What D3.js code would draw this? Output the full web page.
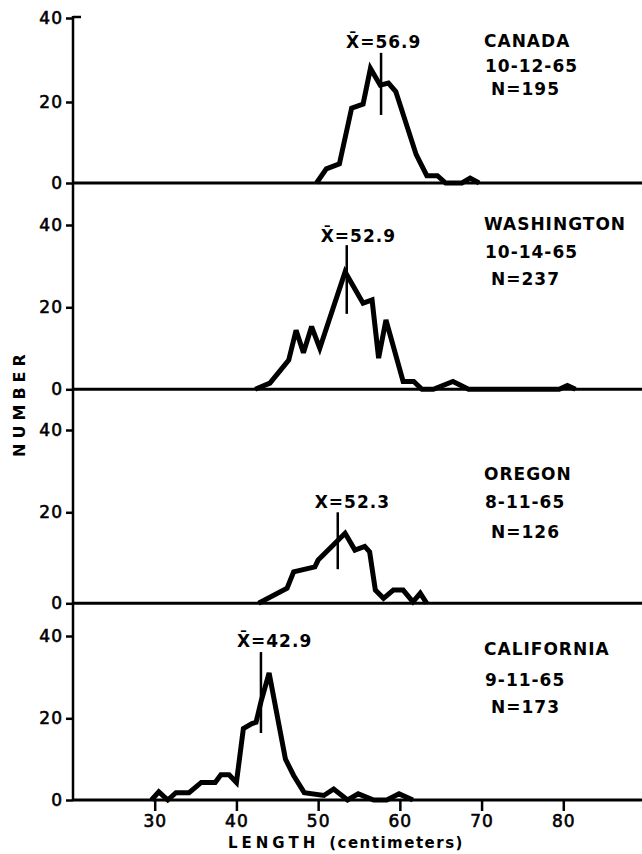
<!DOCTYPE html>
<html>
<head>
<meta charset="utf-8">
<title>Length frequency by region</title>
<script src="https://cdnjs.cloudflare.com/ajax/libs/d3/7.8.5/d3.min.js"></script>
<style>
    body { margin: 0; background: #fff; }
    svg { display: block; }
    text { font-family: "DejaVu Sans", sans-serif; font-weight: bold; fill: #000; }
</style>
</head>
<body>
<svg id="chart" width="642" height="854"></svg>
<script>
// ---- data ----
var regions = ["CANADA", "WASHINGTON", "OREGON", "CALIFORNIA"];
var dates = ["10-12-65", "10-14-65", "8-11-65", "9-11-65"];
var sampleN = [195, 237, 126, 173];
var meanText = ["56.9", "52.9", "52.3", "42.9"];
var meanHasBar = [true, true, false, true];
var meanMarkAt = [57.7, 53.5, 52.4, 43.0];           // where the mean stroke is drawn (cm)
var meanMarkSpan = [[16.8, 31.7], [18.4, 35.1], [7.5, 20], [16.4, 36.1]];  // stroke ends (number)

var yTicks = [0, 20, 40];
var xTicks = [30, 40, 50, 60, 70, 80];

// [length cm, number]
var canada = [[49.8,0],[51,3.5],[52.6,4.7],[54.1,18.5],[55.5,19.5],[56.4,28],[57.6,24],[58.6,24.5],
    [59.5,22.5],[62,7],[63.3,1.8],[64.6,1.8],[65.6,0],[67.6,0],[68.6,1.2],[69.7,0]];
var washington = [[42.3,0],[44.1,1.5],[46.4,7.1],[47.3,14.4],[48.2,8.9],[49.2,15.3],[50.2,10],
    [53.3,28.6],[55.5,21],[56.6,21.8],[57.4,7.6],[58.3,16.9],[60.4,1.9],[61.7,1.9],[62.7,0],
    [64.1,0],[66.5,1.9],[68.4,0],[79.5,0],[80.5,0.9],[81.5,0]];
var oregon = [[42.7,0],[46.2,3.3],[47,6.9],[49.6,8],[50,9.5],[53.3,15.4],[54.5,11.7],[55.7,12.5],
    [56.3,11.3],[57,2.9],[58,1.1],[59.2,2.9],[60.4,2.9],[61.6,0.3],[62.5,2.2],[63.3,0]];
var california = [[29.6,0],[30.5,2],[31.6,0],[32.6,1.8],[34.2,1.8],[35.7,4.3],[37.4,4.3],[38.1,6.2],
    [39.1,6.2],[40,4.3],[40.85,17.5],[41.9,18.7],[42.4,19],[43,24],[44,31],[46,10],[47,6],
    [48.3,1.8],[50.7,1.1],[51.9,2.7],[53.6,0],[54.9,1.5],[56.8,0],[58.4,0],[59.9,1.5],[61.6,0]];
var series = [canada, washington, oregon, california];

// ---- layout ----
var svg = d3.select("#chart");
var x = d3.scaleLinear().domain([20, 90]).range([73, 645]);
var axisX = x(20);
// pixel rows for 0 / 20 / 40 in each panel (hand drawn, so not evenly spaced)
var rows = [[183, 102, 18], [389.3, 307.3, 225], [603.3, 512.3, 430], [800, 718.3, 636]];
var labelBase = [[47, 72, 95], [230, 258, 285], [480, 508, 538], [655, 686, 713]];
var meanBase = [48, 242, 508, 647];
var meanDx = [-35, -26, -23, -24];

// vertical axis
svg.append("line")
    .attr("x1", axisX).attr("x2", axisX)
    .attr("y1", 16).attr("y2", 801)
    .attr("stroke", "#000").attr("stroke-width", 2.5);
// small stub at the very top
svg.append("line")
    .attr("x1", axisX).attr("x2", axisX + 8)
    .attr("y1", 17).attr("y2", 17)
    .attr("stroke", "#000").attr("stroke-width", 2.5);

series.forEach(function(data, i) {
    var y = d3.scaleLinear().domain(yTicks).range(rows[i]);

    // baseline
    svg.append("line")
        .attr("x1", axisX).attr("x2", 642)
        .attr("y1", y(0)).attr("y2", y(0))
        .attr("stroke", "#000").attr("stroke-width", 3);

    var g = svg.append("g")
        .attr("transform", "translate(" + axisX + ",0)")
        .call(d3.axisLeft(y).tickValues(yTicks).tickSize(7).tickPadding(3));
    g.select(".domain").remove();
    g.selectAll(".tick line").attr("stroke-width", 2.5);
    g.selectAll(".tick text")
        .attr("font-size", 17).attr("letter-spacing", 1)
        .style("font-family", "DejaVu Sans").style("font-weight", "normal")
        .attr("stroke", "#000").attr("stroke-width", 0.6);

    // the frequency polygon
    svg.append("path")
        .datum(data)
        .attr("d", d3.line().x(function(d) { return x(d[0]); }).y(function(d) { return y(d[1]); }))
        .attr("fill", "none").attr("stroke", "#000")
        .attr("stroke-width", 5).attr("stroke-linejoin", "miter").attr("stroke-miterlimit", 3);

    // mean mark
    var mx = x(meanMarkAt[i]);
    svg.append("line")
        .attr("x1", mx).attr("x2", mx)
        .attr("y1", y(meanMarkSpan[i][1])).attr("y2", y(meanMarkSpan[i][0]))
        .attr("stroke", "#000").attr("stroke-width", 2.5);
    svg.append("text")
        .attr("x", mx + meanDx[i]).attr("y", meanBase[i])
        .attr("font-size", 17).attr("letter-spacing", 1)
        .text((meanHasBar[i] ? "X\u0304" : "X") + "=" + meanText[i]);

    // region / date / sample size
    var lines = [regions[i], dates[i], "N=" + sampleN[i]];
    var lx = [484, 485, 491];
    lines.forEach(function(t, k) {
        svg.append("text")
            .attr("x", lx[k]).attr("y", labelBase[i][k])
            .attr("font-size", 17).attr("letter-spacing", 1)
            .text(t);
    });
});

// x axis under the last panel
var xg = svg.append("g")
    .attr("transform", "translate(0,800)")
    .call(d3.axisBottom(x).tickValues(xTicks).tickSize(11).tickPadding(4));
xg.select(".domain").remove();
xg.selectAll(".tick line").attr("stroke-width", 2.5);
xg.selectAll(".tick text")
    .attr("font-size", 17).attr("letter-spacing", 1)
    .style("font-family", "DejaVu Sans").style("font-weight", "normal")
    .attr("stroke", "#000").attr("stroke-width", 0.6);

// axis titles
var xt = svg.append("text").attr("x", 228).attr("y", 848).attr("font-size", 15);
xt.append("tspan").attr("letter-spacing", 4).text("LENGTH");
xt.append("tspan").attr("dx", 10).attr("letter-spacing", 1.5).text("(centimeters)");

svg.append("text")
    .attr("transform", "translate(25,403) rotate(-90)")
    .attr("text-anchor", "middle")
    .attr("font-size", 16).attr("letter-spacing", 5)
    .text("NUMBER");
</script>
</body>
</html>
